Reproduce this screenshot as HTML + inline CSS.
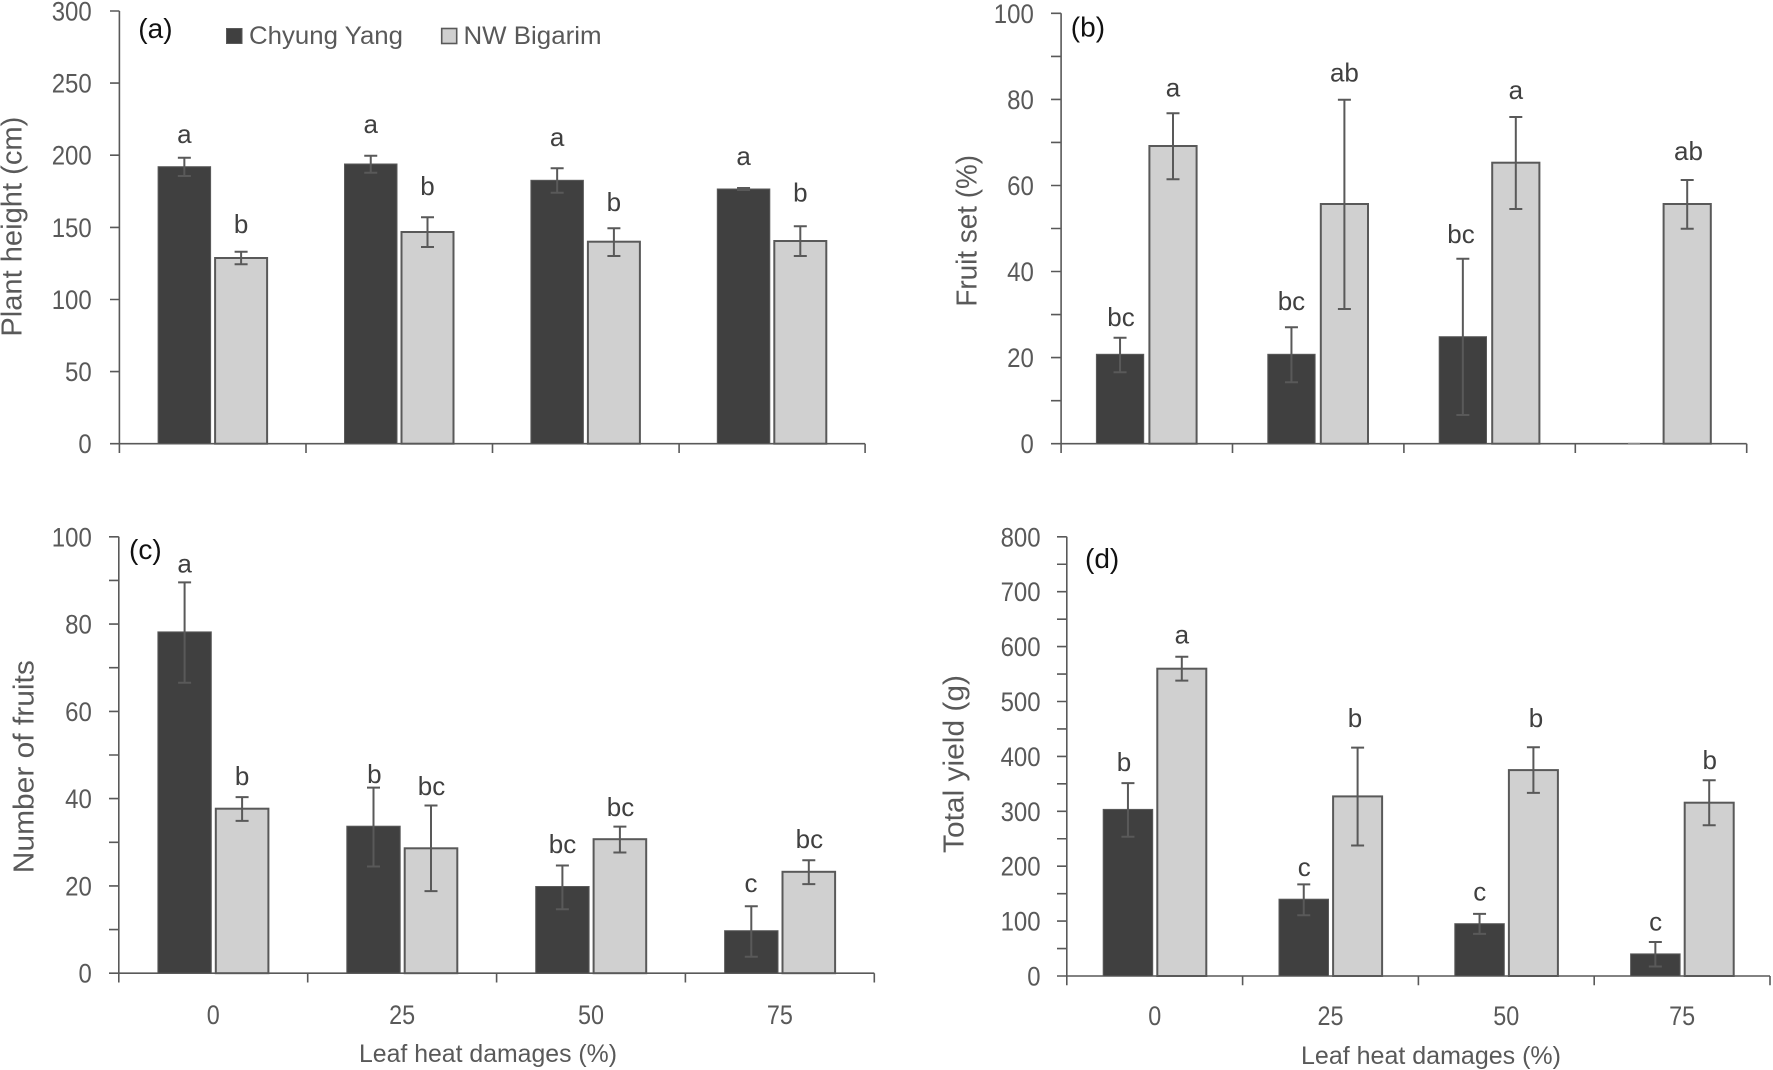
<!DOCTYPE html>
<html>
<head>
<meta charset="utf-8">
<style>
html,body{margin:0;padding:0;background:#fff;}
svg{display:block;}
text{font-family:"Liberation Sans",Arial,sans-serif;}
.tk{font-size:27px;fill:#595959;text-anchor:end;}
.xl{font-size:27px;fill:#595959;text-anchor:middle;}
.lb{font-size:26px;fill:#404040;text-anchor:middle;}
.ttl{font-size:29px;fill:#595959;text-anchor:middle;}
.pl{font-size:28px;fill:#111;}
.ax{stroke:#595959;stroke-width:1.6;fill:none;}
.dk{fill:#404040;stroke:#5a5a5a;stroke-width:1;}
.lt{fill:#d0d0d0;stroke:#595959;stroke-width:2;}
.eb{stroke:#595959;stroke-width:2;fill:none;}
</style>
</head>
<body>
<svg width="1773" height="1070" viewBox="0 0 1773 1070" xmlns="http://www.w3.org/2000/svg">
<rect width="1773" height="1070" fill="#fff"/>

<!-- ================= Panel (a) ================= -->
<path class="ax" d="M119.4 11 V443.7 H865.1
 M110 11 H119.4 M110 83.1 H119.4 M110 155.2 H119.4 M110 227.4 H119.4 M110 299.5 H119.4 M110 371.6 H119.4 M110 443.7 H119.4
 M119.4 443.7 V453 M306 443.7 V453 M492.5 443.7 V453 M679.1 443.7 V453 M865.1 443.7 V453"/>
<text class="tk" x="91.7" y="20.5" textLength="40" lengthAdjust="spacingAndGlyphs">300</text>
<text class="tk" x="91.7" y="92.6" textLength="40" lengthAdjust="spacingAndGlyphs">250</text>
<text class="tk" x="91.7" y="164.7" textLength="40" lengthAdjust="spacingAndGlyphs">200</text>
<text class="tk" x="91.7" y="236.9" textLength="40" lengthAdjust="spacingAndGlyphs">150</text>
<text class="tk" x="91.7" y="309" textLength="40" lengthAdjust="spacingAndGlyphs">100</text>
<text class="tk" x="91.7" y="381.1" textLength="26.7" lengthAdjust="spacingAndGlyphs">50</text>
<text class="tk" x="91.7" y="453.2" textLength="13.3" lengthAdjust="spacingAndGlyphs">0</text>
<text class="ttl" transform="translate(21.7,226.7) rotate(-90)" textLength="220" lengthAdjust="spacingAndGlyphs">Plant height (cm)</text>
<text class="pl" x="138.3" y="38">(a)</text>

<!-- legend -->
<rect x="226.5" y="28.5" width="15.5" height="15" fill="#404040" stroke="#5a5a5a" stroke-width="1"/>
<text x="249" y="44" font-size="25" fill="#595959" textLength="154" lengthAdjust="spacingAndGlyphs">Chyung Yang</text>
<rect x="441.7" y="28.5" width="15" height="15" fill="#d0d0d0" stroke="#595959" stroke-width="1.6"/>
<text x="463.5" y="44" font-size="25" fill="#595959" textLength="138" lengthAdjust="spacingAndGlyphs">NW Bigarim</text>

<rect class="dk" x="158.1" y="166.7" width="52.5" height="277"/>
<rect class="lt" x="215.1" y="258" width="52" height="185.7"/>
<rect class="dk" x="344.5" y="164" width="52.5" height="279.7"/>
<rect class="lt" x="401.5" y="232" width="52" height="211.7"/>
<rect class="dk" x="530.9" y="180.3" width="52.5" height="263.4"/>
<rect class="lt" x="587.9" y="241.7" width="52" height="202"/>
<rect class="dk" x="717.3" y="189" width="52.5" height="254.7"/>
<rect class="lt" x="774.3" y="241" width="52" height="202.7"/>
<path class="eb" d="
M184.35 157.7 V176 M177.85 157.7 H190.85 M177.85 176 H190.85
M241.1 251.7 V264.3 M234.6 251.7 H247.6 M234.6 264.3 H247.6
M370.75 155.7 V172.7 M364.25 155.7 H377.25 M364.25 172.7 H377.25
M427.5 217.3 V247 M421 217.3 H434 M421 247 H434
M557.15 168.3 V192.7 M550.65 168.3 H563.65 M550.65 192.7 H563.65
M613.9 228.3 V256 M607.4 228.3 H620.4 M607.4 256 H620.4
M743.55 188 V190 M737.05 188 H750.05 M737.05 190 H750.05
M800.3 226.3 V256 M793.8 226.3 H806.8 M793.8 256 H806.8"/>
<text class="lb" x="184.35" y="143">a</text>
<text class="lb" x="241.1" y="233">b</text>
<text class="lb" x="370.75" y="133">a</text>
<text class="lb" x="427.5" y="195">b</text>
<text class="lb" x="557.15" y="146">a</text>
<text class="lb" x="613.9" y="211">b</text>
<text class="lb" x="743.55" y="165">a</text>
<text class="lb" x="800.3" y="201.5">b</text>

<!-- ================= Panel (b) ================= -->
<path class="ax" d="M1061.1 13.3 V443.7 H1746.7
 M1051 13.3 H1061.1 M1051 56.4 H1061.1 M1051 99.4 H1061.1 M1051 142.4 H1061.1 M1051 185.5 H1061.1 M1051 228.5 H1061.1 M1051 271.5 H1061.1 M1051 314.6 H1061.1 M1051 357.6 H1061.1 M1051 400.7 H1061.1 M1051 443.7 H1061.1
 M1061.1 443.7 V453 M1232.5 443.7 V453 M1403.9 443.7 V453 M1575.3 443.7 V453 M1746.7 443.7 V453"/>
<text class="tk" x="1033.8" y="22.8" textLength="40" lengthAdjust="spacingAndGlyphs">100</text>
<text class="tk" x="1033.8" y="108.9" textLength="26.7" lengthAdjust="spacingAndGlyphs">80</text>
<text class="tk" x="1033.8" y="195" textLength="26.7" lengthAdjust="spacingAndGlyphs">60</text>
<text class="tk" x="1033.8" y="281" textLength="26.7" lengthAdjust="spacingAndGlyphs">40</text>
<text class="tk" x="1033.8" y="367.1" textLength="26.7" lengthAdjust="spacingAndGlyphs">20</text>
<text class="tk" x="1033.8" y="453.2" textLength="13.3" lengthAdjust="spacingAndGlyphs">0</text>
<text class="ttl" font-size="28" transform="translate(976.7,230.8) rotate(-90)" textLength="151.7" lengthAdjust="spacingAndGlyphs">Fruit set (%)</text>
<text class="pl" x="1070.8" y="36.5">(b)</text>

<rect class="dk" x="1096.4" y="354.3" width="47.3" height="89.4"/>
<rect class="lt" x="1149.4" y="146" width="47.2" height="297.7"/>
<rect class="dk" x="1267.8" y="354.3" width="47.3" height="89.4"/>
<rect class="lt" x="1320.8" y="204" width="47.2" height="239.7"/>
<rect class="dk" x="1439.2" y="336.7" width="47.3" height="107"/>
<rect class="lt" x="1492.2" y="162.7" width="47.2" height="281"/>
<line x1="1628" y1="443" x2="1640" y2="443" stroke="#bbb" stroke-width="1"/>
<rect class="lt" x="1663.6" y="204" width="47.2" height="239.7"/>
<path class="eb" d="
M1120.05 337.7 V372.3 M1113.55 337.7 H1126.55 M1113.55 372.3 H1126.55
M1173 113.3 V179.3 M1166.5 113.3 H1179.5 M1166.5 179.3 H1179.5
M1291.45 327.3 V382.3 M1284.95 327.3 H1297.95 M1284.95 382.3 H1297.95
M1344.4 99.7 V309 M1337.9 99.7 H1350.9 M1337.9 309 H1350.9
M1462.85 258.7 V415 M1456.35 258.7 H1469.35 M1456.35 415 H1469.35
M1515.8 117 V209 M1509.3 117 H1522.3 M1509.3 209 H1522.3
M1687.2 180 V228.7 M1680.7 180 H1693.7 M1680.7 228.7 H1693.7"/>
<text class="lb" x="1121" y="326">bc</text>
<text class="lb" x="1173" y="96.7">a</text>
<text class="lb" x="1291.45" y="310">bc</text>
<text class="lb" x="1344.4" y="81.7">ab</text>
<text class="lb" x="1461" y="243">bc</text>
<text class="lb" x="1515.8" y="99">a</text>
<text class="lb" x="1688.5" y="160">ab</text>

<!-- ================= Panel (c) ================= -->
<path class="ax" d="M118.8 536.8 V973.2 H874.3
 M109 536.8 H118.8 M109 580.4 H118.8 M109 624.1 H118.8 M109 667.7 H118.8 M109 711.4 H118.8 M109 755 H118.8 M109 798.6 H118.8 M109 842.3 H118.8 M109 885.9 H118.8 M109 929.6 H118.8 M109 973.2 H118.8
 M118.8 973.2 V982.5 M307.7 973.2 V982.5 M496.6 973.2 V982.5 M685.4 973.2 V982.5 M874.3 973.2 V982.5"/>
<text class="tk" x="91.8" y="546.3" textLength="40" lengthAdjust="spacingAndGlyphs">100</text>
<text class="tk" x="91.8" y="633.6" textLength="26.7" lengthAdjust="spacingAndGlyphs">80</text>
<text class="tk" x="91.8" y="720.9" textLength="26.7" lengthAdjust="spacingAndGlyphs">60</text>
<text class="tk" x="91.8" y="808.1" textLength="26.7" lengthAdjust="spacingAndGlyphs">40</text>
<text class="tk" x="91.8" y="895.4" textLength="26.7" lengthAdjust="spacingAndGlyphs">20</text>
<text class="tk" x="91.8" y="982.7" textLength="13.3" lengthAdjust="spacingAndGlyphs">0</text>
<text class="ttl" transform="translate(33.3,766.7) rotate(-90)" textLength="213" lengthAdjust="spacingAndGlyphs">Number of fruits</text>
<text class="pl" x="129" y="559">(c)</text>
<text class="xl" x="213.2" y="1024" textLength="13" lengthAdjust="spacingAndGlyphs">0</text>
<text class="xl" x="402.1" y="1024" textLength="26" lengthAdjust="spacingAndGlyphs">25</text>
<text class="xl" x="591" y="1024" textLength="26" lengthAdjust="spacingAndGlyphs">50</text>
<text class="xl" x="779.9" y="1024" textLength="26" lengthAdjust="spacingAndGlyphs">75</text>
<text x="488" y="1062" font-size="25" fill="#595959" text-anchor="middle" textLength="258" lengthAdjust="spacingAndGlyphs">Leaf heat damages (%)</text>

<rect class="dk" x="157.9" y="631.9" width="53.4" height="341.3"/>
<rect class="lt" x="215.8" y="808.7" width="52.6" height="164.5"/>
<rect class="dk" x="346.8" y="826.2" width="53.4" height="147"/>
<rect class="lt" x="404.7" y="848.3" width="52.6" height="124.9"/>
<rect class="dk" x="535.7" y="886.5" width="53.4" height="86.7"/>
<rect class="lt" x="593.6" y="839.2" width="52.6" height="134"/>
<rect class="dk" x="724.6" y="930.7" width="53.4" height="42.5"/>
<rect class="lt" x="782.5" y="871.8" width="52.6" height="101.4"/>
<path class="eb" d="
M184.6 582.4 V682.7 M178.1 582.4 H191.1 M178.1 682.7 H191.1
M242.1 797.1 V820.9 M235.6 797.1 H248.6 M235.6 820.9 H248.6
M373.5 787.6 V866.5 M367 787.6 H380 M367 866.5 H380
M431 805.5 V891.1 M424.5 805.5 H437.5 M424.5 891.1 H437.5
M562.4 865.5 V909.3 M555.9 865.5 H568.9 M555.9 909.3 H568.9
M619.9 826.6 V852.5 M613.4 826.6 H626.4 M613.4 852.5 H626.4
M751.3 906.2 V956.7 M744.8 906.2 H757.8 M744.8 956.7 H757.8
M808.8 860.2 V884.1 M802.3 860.2 H815.3 M802.3 884.1 H815.3"/>
<text class="lb" x="184.6" y="572.6">a</text>
<text class="lb" x="242.1" y="784.8">b</text>
<text class="lb" x="374.3" y="783">b</text>
<text class="lb" x="431.5" y="795">bc</text>
<text class="lb" x="562.5" y="853">bc</text>
<text class="lb" x="620.5" y="816">bc</text>
<text class="lb" x="751" y="892">c</text>
<text class="lb" x="809.4" y="848">bc</text>

<!-- ================= Panel (d) ================= -->
<path class="ax" d="M1066.8 536.8 V976 H1770
 M1057 536.8 H1066.8 M1057 564.25 H1066.8 M1057 591.7 H1066.8 M1057 619.15 H1066.8 M1057 646.6 H1066.8 M1057 674.05 H1066.8 M1057 701.5 H1066.8 M1057 728.95 H1066.8 M1057 756.4 H1066.8 M1057 783.85 H1066.8 M1057 811.3 H1066.8 M1057 838.75 H1066.8 M1057 866.2 H1066.8 M1057 893.65 H1066.8 M1057 921.1 H1066.8 M1057 948.55 H1066.8 M1057 976 H1066.8
 M1066.8 976 V985.3 M1242.6 976 V985.3 M1418.4 976 V985.3 M1594.2 976 V985.3 M1770 976 V985.3"/>
<text class="tk" x="1040.6" y="546.3" textLength="40" lengthAdjust="spacingAndGlyphs">800</text>
<text class="tk" x="1040.6" y="601.2" textLength="40" lengthAdjust="spacingAndGlyphs">700</text>
<text class="tk" x="1040.6" y="656.1" textLength="40" lengthAdjust="spacingAndGlyphs">600</text>
<text class="tk" x="1040.6" y="711" textLength="40" lengthAdjust="spacingAndGlyphs">500</text>
<text class="tk" x="1040.6" y="765.9" textLength="40" lengthAdjust="spacingAndGlyphs">400</text>
<text class="tk" x="1040.6" y="820.8" textLength="40" lengthAdjust="spacingAndGlyphs">300</text>
<text class="tk" x="1040.6" y="875.7" textLength="40" lengthAdjust="spacingAndGlyphs">200</text>
<text class="tk" x="1040.6" y="930.6" textLength="40" lengthAdjust="spacingAndGlyphs">100</text>
<text class="tk" x="1040.6" y="985.5" textLength="13.3" lengthAdjust="spacingAndGlyphs">0</text>
<text class="ttl" transform="translate(963.3,764) rotate(-90)" textLength="178" lengthAdjust="spacingAndGlyphs">Total yield (g)</text>
<text class="pl" x="1085" y="568">(d)</text>
<text class="xl" x="1154.7" y="1025" textLength="13" lengthAdjust="spacingAndGlyphs">0</text>
<text class="xl" x="1330.5" y="1025" textLength="26" lengthAdjust="spacingAndGlyphs">25</text>
<text class="xl" x="1506.3" y="1025" textLength="26" lengthAdjust="spacingAndGlyphs">50</text>
<text class="xl" x="1682.1" y="1025" textLength="26" lengthAdjust="spacingAndGlyphs">75</text>
<text x="1431" y="1064" font-size="25" fill="#595959" text-anchor="middle" textLength="260" lengthAdjust="spacingAndGlyphs">Leaf heat damages (%)</text>

<rect class="dk" x="1103.2" y="809.4" width="49.5" height="166.6"/>
<rect class="lt" x="1157.3" y="668.7" width="49" height="307.3"/>
<rect class="dk" x="1279" y="899.2" width="49.5" height="76.8"/>
<rect class="lt" x="1333.1" y="796.4" width="49" height="179.6"/>
<rect class="dk" x="1454.8" y="923.7" width="49.5" height="52.3"/>
<rect class="lt" x="1508.9" y="770.1" width="49" height="205.9"/>
<rect class="dk" x="1630.6" y="953.9" width="49.5" height="22.1"/>
<rect class="lt" x="1684.7" y="802.7" width="49" height="173.3"/>
<path class="eb" d="
M1127.95 783.1 V836.7 M1121.45 783.1 H1134.45 M1121.45 836.7 H1134.45
M1181.8 656.8 V680.6 M1175.3 656.8 H1188.3 M1175.3 680.6 H1188.3
M1303.75 884.4 V915.3 M1297.25 884.4 H1310.25 M1297.25 915.3 H1310.25
M1357.6 747.6 V845.5 M1351.1 747.6 H1364.1 M1351.1 845.5 H1364.1
M1479.55 913.9 V933.9 M1473.05 913.9 H1486.05 M1473.05 933.9 H1486.05
M1533.4 747.3 V792.9 M1526.9 747.3 H1539.9 M1526.9 792.9 H1539.9
M1655.35 942 V966.5 M1648.85 942 H1661.85 M1648.85 966.5 H1661.85
M1709.2 780.3 V825.2 M1702.7 780.3 H1715.7 M1702.7 825.2 H1715.7"/>
<text class="lb" x="1124" y="770.8">b</text>
<text class="lb" x="1181.8" y="643.5">a</text>
<text class="lb" x="1304.3" y="876">c</text>
<text class="lb" x="1355" y="727">b</text>
<text class="lb" x="1479.7" y="900.6">c</text>
<text class="lb" x="1536" y="727">b</text>
<text class="lb" x="1655.6" y="930.4">c</text>
<text class="lb" x="1709.7" y="769">b</text>
</svg>
</body>
</html>
